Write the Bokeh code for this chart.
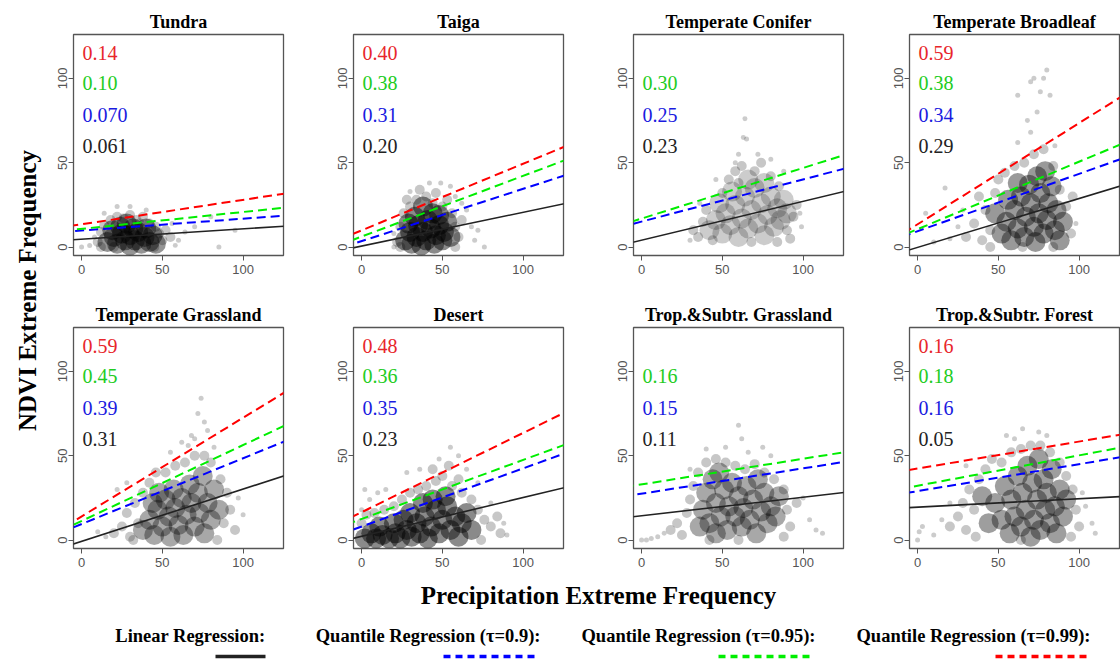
from bokeh.plotting import figure
from bokeh.layouts import row, column
from bokeh.models import FixedTicker, Slope, Range1d
from bokeh.core.properties import value
from bokeh.embed import file_html
from bokeh.resources import INLINE

# ---------------- data ----------------
biomes = ["Tundra", "Taiga", "Temperate Conifer", "Temperate Broadleaf",
          "Temperate Grassland", "Desert", "Trop.&Subtr. Grassland", "Trop.&Subtr. Forest"]

# slope labels printed in each panel (top to bottom: tau=0.99, 0.95, 0.9, linear)
label_q99 = ["0.14", "0.40", None, "0.59", "0.59", "0.48", None, "0.16"]
label_q95 = ["0.10", "0.38", "0.30", "0.38", "0.45", "0.36", "0.16", "0.18"]
label_q90 = ["0.070", "0.31", "0.25", "0.34", "0.39", "0.35", "0.15", "0.16"]
label_lin = ["0.061", "0.20", "0.23", "0.29", "0.31", "0.23", "0.11", "0.05"]

# regression lines (gradient, intercept)
slope_lin = [0.061, 0.20, 0.23, 0.29, 0.31, 0.23, 0.11, 0.05]
icpt_lin = [4.7, 0.6, 4.1, -0.2, -0.8, 2.2, 14.4, 19.5]
slope_q90 = [0.070, 0.31, 0.25, 0.34, 0.39, 0.345, 0.15, 0.16]
icpt_q90 = [9.8, 3.5, 15.1, 9.4, 9.5, 8.0, 27.5, 29.0]
slope_q95 = [0.10, 0.36, 0.30, 0.40, 0.45, 0.35, 0.152, 0.18]
icpt_q95 = [10.8, 6.2, 16.9, 10.6, 11.3, 12.5, 33.0, 32.2]
slope_q99 = [0.145, 0.395, None, 0.60, 0.585, 0.47, None, 0.16]
icpt_q99 = [13.5, 9.9, None, 13.5, 14.0, 16.5, None, 42.4]

# scatter clouds (precipitation freq, NDVI freq): dense cores, fringes and outliers
tundra_core = [(16, 3), (20, 6), (22, 2), (25, 8), (27, 4), (30, 1), (30, 7), (33, 4), (35, 9), (37, 2),
               (39, 6), (42, 3), (44, 7), (19, 10), (24, 12), (32, 11), (40, 11), (28, 14), (46, 2)]
tundra_mid = [(10, 3), (12, 9), (14, 13), (18, 16), (22, 18), (26, 17), (30, 19), (34, 16), (38, 18),
              (42, 14), (46, 12), (48, 8), (50, 4), (52, 10), (55, 6), (12, 0), (45, 0), (20, 0), (36, 14)]
tundra_out = [(0, 0), (5, 1), (8, 6), (14, 20), (22, 24), (30, 24), (40, 22), (56, 14), (60, 4), (64, 9),
              (70, 12), (80, 18), (85, 0), (95, 10), (58, 1)]

taiga_core = [(27, 4), (30, 9), (31, 2), (34, 6), (35, 13), (37, 1), (38, 9), (40, 4), (41, 16), (43, 11),
              (45, 2), (46, 7), (48, 13), (50, 4), (51, 9), (53, 15), (33, 18), (44, 20), (55, 6), (29, 14),
              (38, 24), (48, 19)]
taiga_mid = [(22, 3), (24, 12), (26, 20), (30, 24), (34, 28), (40, 30), (44, 26), (50, 24), (53, 28),
             (56, 20), (58, 12), (60, 6), (62, 16), (24, 0), (58, 0), (36, 34), (46, 32), (28, 28)]
taiga_out = [(20, 8), (65, 22), (68, 12), (70, 4), (72, 10), (76, 0), (49, 38), (42, 38), (30, 33),
             (58, 30), (62, 26), (55, 36), (20, 0)]

conifer_core = [(42, 10), (46, 16), (50, 8), (52, 20), (55, 13), (58, 25), (60, 6), (62, 17), (64, 30),
                (66, 11), (68, 22), (70, 35), (72, 14), (74, 26), (76, 7), (78, 19), (80, 30), (82, 12),
                (84, 23), (86, 16), (88, 28), (90, 20), (56, 33), (66, 40), (76, 38), (48, 26)]
conifer_mid = [(32, 10), (35, 6), (38, 15), (40, 22), (44, 4), (50, 32), (54, 40), (58, 45), (62, 48),
               (70, 45), (74, 50), (80, 42), (85, 36), (90, 10), (94, 18), (96, 25), (92, 5), (68, 3),
               (84, 3), (60, 38)]
conifer_out = [(63, 65), (65, 64), (64, 76), (60, 55), (72, 55), (80, 52), (58, 50), (98, 20), (30, 4),
               (36, 26), (46, 40), (88, 45), (99, 12)]

broadleaf_core = [(52, 8), (55, 15), (58, 4), (60, 22), (62, 11), (64, 30), (66, 6), (67, 18), (69, 37),
                  (70, 26), (72, 12), (73, 3), (74, 42), (75, 20), (76, 32), (78, 8), (79, 45), (80, 16),
                  (81, 26), (83, 36), (85, 10), (86, 22), (88, 4), (48, 20), (56, 28), (62, 38), (90, 15)]
broadleaf_mid = [(30, 6), (35, 14), (40, 4), (42, 22), (45, 10), (48, 32), (50, 40), (54, 44), (60, 48),
                 (66, 50), (72, 55), (78, 58), (84, 48), (88, 34), (92, 24), (95, 8), (96, 30), (45, 0),
                 (65, 0), (84, 0), (38, 30)]
broadleaf_out = [(20, 5), (10, 3), (5, 20), (17, 35), (25, 12), (62, 62), (70, 68), (74, 80), (76, 92),
                 (78, 100), (80, 105), (70, 98), (72, 100), (62, 90), (82, 90), (68, 75), (85, 60), (98, 14),
                 (28, 22)]

grassland_core = [(38, 6), (42, 12), (45, 3), (47, 18), (50, 8), (52, 24), (54, 14), (55, 2), (57, 30),
                  (58, 19), (60, 9), (62, 25), (63, 3), (65, 15), (67, 33), (68, 22), (70, 8), (72, 28),
                  (73, 16), (75, 38), (76, 4), (78, 22), (80, 12), (82, 30), (48, 28), (44, 22), (85, 18)]
grassland_mid = [(20, 4), (25, 8), (28, 16), (30, 2), (33, 22), (35, 10), (38, 28), (42, 34), (46, 40),
                 (52, 40), (58, 44), (64, 46), (70, 50), (76, 50), (80, 46), (86, 36), (88, 10), (92, 18),
                 (95, 6), (90, 28), (32, 0), (84, 0)]
grassland_out = [(15, 2), (10, 5), (22, 30), (28, 34), (55, 52), (62, 58), (68, 62), (70, 60), (72, 75),
                 (74, 84), (76, 70), (78, 65), (82, 55), (100, 15), (97, 25), (66, 56)]

desert_core = [(2, 1), (6, 4), (9, 1), (13, 3), (17, 1), (21, 4), (24, 1), (28, 6), (31, 2), (34, 10),
               (36, 4), (39, 14), (41, 1), (43, 8), (46, 18), (48, 4), (50, 12), (53, 20), (55, 6), (58, 14),
               (60, 2), (62, 10), (30, 16), (38, 22), (44, 24), (52, 26), (65, 16), (68, 6), (11, 8),
               (20, 10), (26, 12)]
desert_mid = [(0, 10), (3, 15), (8, 16), (14, 18), (20, 20), (25, 24), (30, 28), (35, 30), (40, 32),
              (46, 35), (50, 38), (56, 32), (62, 28), (68, 24), (72, 18), (76, 12), (80, 8), (84, 14),
              (86, 4), (74, 0), (60, 36), (54, 44), (44, 42)]
desert_out = [(0, 18), (5, 24), (10, 28), (15, 30), (28, 40), (36, 42), (48, 48), (55, 55), (60, 50),
              (65, 42), (72, 34), (80, 22), (88, 10), (90, 3), (2, 30)]

tgrass_core = [(38, 18), (40, 28), (42, 10), (44, 36), (46, 22), (48, 40), (49, 14), (51, 30), (53, 6),
               (54, 20), (56, 34), (58, 14), (60, 26), (62, 8), (63, 19), (65, 32), (67, 12), (69, 24),
               (71, 4), (72, 36), (74, 17), (76, 28), (78, 10), (80, 20), (83, 14), (85, 26), (36, 8),
               (46, 4)]
tgrass_mid = [(18, 6), (22, 10), (25, 3), (28, 16), (30, 24), (32, 32), (35, 40), (40, 46), (46, 48),
              (52, 46), (58, 44), (64, 42), (70, 45), (76, 40), (82, 36), (88, 30), (90, 18), (92, 8),
              (96, 22), (88, 2), (60, 0), (42, 0)]
tgrass_out = [(0, 0), (3, 0), (6, 1), (10, 2), (14, 4), (52, 55), (60, 68), (62, 60), (66, 52), (75, 55),
              (80, 50), (100, 25), (104, 12), (108, 6), (112, 4), (30, 42), (40, 54)]

tforest_core = [(48, 22), (52, 12), (54, 32), (57, 4), (58, 24), (60, 14), (62, 38), (64, 8), (65, 28),
                (67, 18), (68, 44), (70, 2), (71, 34), (72, 12), (74, 24), (75, 48), (76, 6), (78, 36),
                (79, 18), (80, 28), (82, 10), (83, 42), (85, 20), (86, 4), (88, 30), (90, 14), (92, 24),
                (44, 10), (40, 26)]
tforest_mid = [(25, 14), (28, 22), (30, 6), (32, 30), (35, 18), (38, 36), (42, 42), (46, 48), (52, 46),
               (58, 52), (64, 54), (70, 56), (76, 56), (82, 52), (88, 46), (92, 38), (96, 30), (98, 18),
               (100, 8), (95, 2), (36, 2), (64, 0), (20, 8)]
tforest_out = [(0, 0), (1, 5), (3, 8), (10, 3), (15, 12), (20, 22), (55, 62), (60, 60), (65, 66), (75, 64),
               (80, 62), (104, 20), (108, 10), (110, 4), (102, 28), (30, 44)]

core_sets = [tundra_core, taiga_core, conifer_core, broadleaf_core,
             grassland_core, desert_core, tgrass_core, tforest_core]
mid_sets = [tundra_mid, taiga_mid, conifer_mid, broadleaf_mid,
            grassland_mid, desert_mid, tgrass_mid, tforest_mid]
out_sets = [tundra_out, taiga_out, conifer_out, broadleaf_out,
            grassland_out, desert_out, tgrass_out, tforest_out]

x_ticks = [0, 50, 100]
y_ticks = [0, 50, 100]
label_rows = [115, 97, 78.5, 60]  # y positions of the four printed slopes

legend_labels = ["Linear Regression:", "Quantile Regression (\u03c4=0.9):",
                 "Quantile Regression (\u03c4=0.95):", "Quantile Regression (\u03c4=0.99):"]

# ---------------- styling ----------------
RED, GREEN, BLUE, BLACK = "#FF0000", "#00EE00", "#0000FF", "#222222"
SERIF = "Liberation Serif"
SANS = "Liberation Sans"
FW, FH = 210, 221
core_alpha = [0.42, 0.46, 0.2, 0.4, 0.34, 0.46, 0.34, 0.38]


def make_panel(i):
    col = i % 4
    rw = i // 4
    left = [25, 48, 48, 44][col]
    right = [22, 22, 22, 1][col]
    bottom = 38 if rw == 0 else 30
    p = figure(frame_width=FW, frame_height=FH,
               x_range=Range1d(-5, 125), y_range=Range1d(-5, 126),
               min_border_left=left, min_border_right=right,
               min_border_top=34, min_border_bottom=bottom,
               output_backend="svg", toolbar_location=None,
               background_fill_color="white", border_fill_color="white")
    p.title.text = biomes[i]
    p.title.align = "center"
    p.title.text_font = SERIF
    p.title.text_font_style = "bold"
    p.title.text_font_size = "18px"
    p.title.text_color = "black"
    p.title.standoff = 6
    p.xgrid.grid_line_color = None
    p.ygrid.grid_line_color = None
    p.outline_line_color = "#555555"
    p.outline_line_width = 1.3
    p.xaxis.ticker = FixedTicker(ticks=x_ticks)
    p.yaxis.ticker = FixedTicker(ticks=y_ticks)
    for ax in (p.xaxis, p.yaxis):
        ax.axis_line_color = None
        ax.major_tick_line_color = "#555555"
        ax.major_tick_out = 5
        ax.major_tick_in = 0
        ax.minor_tick_out = 0
        ax.minor_tick_in = 0
        ax.major_label_text_font = SANS
        ax.major_label_text_font_size = "13px"
        ax.major_label_text_color = "#555555"
    p.xaxis.major_label_standoff = 4
    p.yaxis.major_label_standoff = 1
    p.yaxis.major_label_orientation = "vertical"

    for pts, sz, al in ((out_sets[i], 5, 0.2), (mid_sets[i], 10, 0.22),
                        (core_sets[i], 20, core_alpha[i])):
        p.scatter([a for a, b in pts], [b for a, b in pts], size=sz, color="black",
                  alpha=al, line_color=None)

    p.add_layout(Slope(gradient=slope_lin[i], y_intercept=icpt_lin[i],
                       line_color=BLACK, line_width=1.6))
    p.add_layout(Slope(gradient=slope_q90[i], y_intercept=icpt_q90[i],
                       line_color=BLUE, line_width=2, line_dash="9 5"))
    p.add_layout(Slope(gradient=slope_q95[i], y_intercept=icpt_q95[i],
                       line_color=GREEN, line_width=2, line_dash="9 5"))
    if slope_q99[i] is not None:
        p.add_layout(Slope(gradient=slope_q99[i], y_intercept=icpt_q99[i],
                           line_color=RED, line_width=2, line_dash="9 5"))

    labs, cols, ys = [], [], []
    for lab, c, yy in zip([label_q99[i], label_q95[i], label_q90[i], label_lin[i]],
                          ["#E8262B", "#22CC22", "#1A1AE0", BLACK], label_rows):
        if lab is not None:
            labs.append(lab)
            cols.append(c)
            ys.append(yy)
    p.text(x=[0.5] * len(labs), y=ys, text=labs, text_color=cols,
           text_font=value(SERIF), text_font_size="20px",
           text_baseline="middle", text_align="left")
    return p


panels = [make_panel(i) for i in range(8)]

# y-axis title
YH = 293 + 285
ylab = figure(width=48, height=YH, x_range=Range1d(0, 48), y_range=Range1d(0, YH),
              x_axis_type=None, y_axis_type=None, min_border=0,
              output_backend="svg", toolbar_location=None)
ylab.outline_line_color = None
ylab.xgrid.grid_line_color = None
ylab.ygrid.grid_line_color = None
ylab.text(x=[27], y=[YH - 290], text=["NDVI Extreme Frequency"], angle=1.5707963,
          text_font=value(SERIF), text_font_style="bold", text_font_size="25px",
          text_color="black", text_align="center", text_baseline="middle")

# x-axis title and legend
BH = 82
bot = figure(width=1120, height=BH, x_range=Range1d(0, 1120), y_range=Range1d(0, BH),
             x_axis_type=None, y_axis_type=None, min_border=0,
             output_backend="svg", toolbar_location=None)
bot.outline_line_color = None
bot.xgrid.grid_line_color = None
bot.ygrid.grid_line_color = None
bot.text(x=[598], y=[BH - 17], text=["Precipitation Extreme Frequency"],
         text_font=value(SERIF), text_font_style="bold", text_font_size="25px",
         text_color="black", text_align="center", text_baseline="middle")
leg_text_right = [265, 540, 815, 1090]
leg_line_start = [215, 443, 718, 995]
leg_line_end = [265, 535, 812, 1090]
leg_colors = [BLACK, BLUE, GREEN, RED]
leg_dash = ["solid", "7 5", "7 5", "7 5"]
bot.text(x=leg_text_right, y=[BH - 57] * 4, text=legend_labels,
         text_font=value(SERIF), text_font_style="bold", text_font_size="18.5px",
         text_color="black", text_align="right", text_baseline="middle")
for xs, xe, c, d in zip(leg_line_start, leg_line_end, leg_colors, leg_dash):
    bot.line([xs, xe], [BH - 78, BH - 78], line_color=c, line_width=3.5, line_dash=d)

layout = column(row(ylab, column(row(*panels[:4]), row(*panels[4:]))), bot)

open("out.html", "w").write(file_html(layout, INLINE))
